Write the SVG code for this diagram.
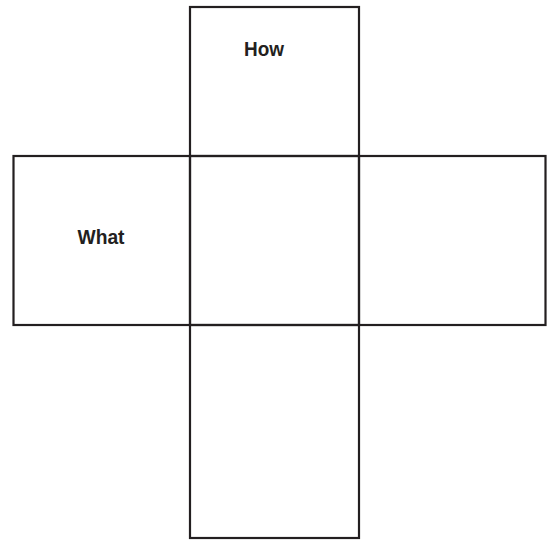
<svg xmlns="http://www.w3.org/2000/svg" width="547" height="540" viewBox="0 0 547 540">
<style>
.box{fill:none;stroke:#231f20;stroke-width:2.2}
.lbl{font-family:"Liberation Sans Narrow","Liberation Sans",Arial,sans-serif;font-weight:bold;font-size:21px;fill:#231f20}
</style>
<rect width="547" height="540" fill="#fff"/>
<g id="top"><rect class="box" x="190" y="7" width="169" height="149"/><text class="lbl" x="264" y="56" text-anchor="middle" textLength="40" lengthAdjust="spacingAndGlyphs">How</text></g>
<g id="left"><rect class="box" x="13.5" y="156" width="176.5" height="169"/><text class="lbl" x="101" y="244" text-anchor="middle" textLength="47" lengthAdjust="spacingAndGlyphs">What</text></g>
<g id="center"><rect class="box" x="190" y="156" width="169" height="169"/></g>
<g id="right"><rect class="box" x="359" y="156" width="186.5" height="169"/></g>
<g id="bottom"><rect class="box" x="190" y="325" width="169" height="213"/></g>
<g id="connectors"/>
</svg>
